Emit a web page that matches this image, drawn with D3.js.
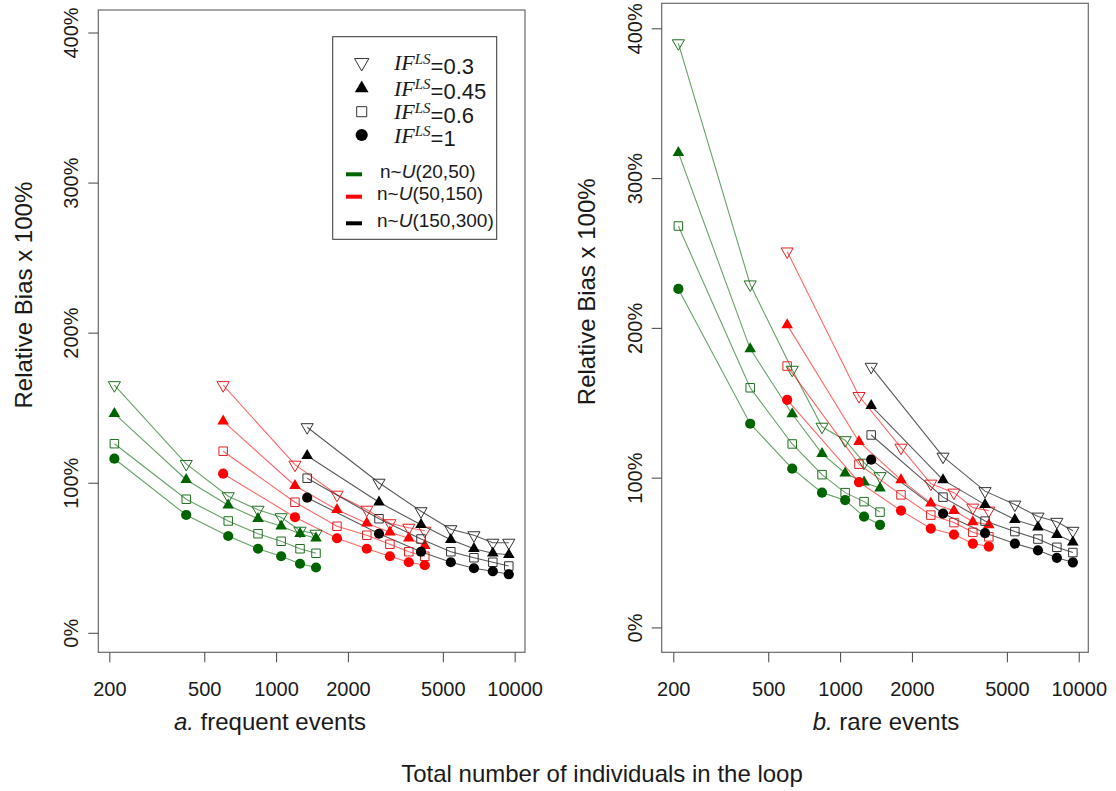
<!DOCTYPE html>
<html>
<head>
<meta charset="utf-8">
<script src="https://cdn.jsdelivr.net/npm/d3@7"></script>
<style>
  body { margin: 0; background: #fff; }
  text { font-family: "Liberation Sans", Arial, sans-serif; fill: #1a1a1a; }
</style>
</head>
<body>
<script>
// loop sizes (total individuals) for each n range
let nGreen = [210, 420, 630, 840, 1050, 1260, 1470],
    nRed = [600, 1200, 1800, 2400, 3000, 3600, 4200],
    nBlack = [1350, 2700, 4050, 5400, 6750, 8100, 9450];

let ifLevels = ["0.3", "0.45", "0.6", "1"],
    nRanges = ["20,50", "50,150", "150,300"],
    xTicks = [200, 500, 1000, 2000, 5000, 10000],
    yTicks = [0, 100, 200, 300, 400];

// relative bias in %, one row per IF level (0.3, 0.45, 0.6, 1)
let freqGreen = [
    [165, 112.5, 91, 82, 77, 68, 66],
    [146, 102, 85, 76, 71, 66, 63],
    [126, 89, 74.5, 66, 61, 56, 53],
    [116, 78.5, 64.5, 56, 51, 46, 43.5]];
let freqRed = [
    [165, 112, 92, 82, 73, 70, 68],
    [141, 98, 82, 73, 67, 63, 58],
    [121, 87, 71, 65, 59, 54, 51],
    [106, 77, 63, 56, 51, 47, 45]];
let freqBlack = [
    [137, 100, 81, 69, 65, 60, 60],
    [118, 87, 72, 62, 56, 53, 52],
    [103, 76, 62.5, 54, 50, 47, 44.5],
    [90, 66, 54, 47, 43, 41, 39]];

let rareGreen = [
    [390, 229, 172, 134, 125, 110, 101],
    [317, 186, 142.5, 116, 103, 97, 93],
    [268, 160, 122.5, 102, 90, 84, 77],
    [226, 136, 106, 90, 85, 74, 68.5]];
let rareRed = [
    [251, 154.5, 120, 96, 90, 80, 78],
    [202, 124, 98.5, 83, 78, 70.5, 68.5],
    [174.5, 109, 88.5, 75, 70, 63.5, 60.5],
    [152, 97, 78, 66, 62, 56, 54]];
let rareBlack = [
    [174, 114, 91, 82, 74, 70.5, 64.5],
    [148, 98.5, 82, 72, 67, 62, 57],
    [128.5, 87, 71, 64, 59, 53.5, 50],
    [112, 76, 63, 56, 51.5, 46.5, 43.5]];

let colors = ["#006400", "#ff0000", "#000000"],
    openColors = ["#1f6f1f", "#e52020", "#333333"];

let svgContainer = d3.select("body").append("svg")
    .attr("width", 1116)
    .attr("height", 791);

let symbols = [
    { type: d3.symbolTriangle, size: 64, rotate: 180, open: true },
    { type: d3.symbolTriangle, size: 58, rotate: 0, open: false },
    { type: d3.symbolSquare, size: 72, rotate: 0, open: true },
    { type: d3.symbolCircle, size: 82, rotate: 0, open: false }
];

function drawMarker(g, x, y, k, ci, scaleUp) {
    let s = symbols[k];
    let path = g.append("path")
        .attr("d", d3.symbol().type(s.type).size(s.size * (scaleUp || 1))())
        .attr("transform", "translate(" + x + "," + y + ") rotate(" + s.rotate + ")");
    if (s.open) {
        path.attr("fill", "none").attr("stroke", openColors[ci]).attr("stroke-width", 1);
    } else {
        path.attr("fill", colors[ci]);
    }
}

function drawPanel(box, xDomain, yDomain, groups, title, titleX) {
    let x = d3.scaleLog().domain(xDomain).range([box.left, box.right]);
    let y = d3.scaleLinear().domain(yDomain).range([box.bottom, box.top]);
    let g = svgContainer.append("g");

    let line = d3.line().x(d => x(d[0])).y(d => y(d[1]));
    groups.forEach((grp, ci) => {
        grp.values.forEach(row => {
            g.append("path")
                .datum(grp.n.map((n, i) => [n, row[i]]))
                .attr("d", line)
                .attr("fill", "none")
                .attr("stroke", colors[ci])
                .attr("stroke-opacity", ci == 2 ? 0.65 : 0.6)
                .attr("stroke-width", 1.1);
        });
    });
    groups.forEach((grp, ci) => {
        grp.values.forEach((row, k) => {
            row.forEach((v, i) => drawMarker(g, x(grp.n[i]), y(v), k, ci));
        });
    });

    g.append("rect")
        .attr("x", box.left).attr("y", box.top)
        .attr("width", box.right - box.left).attr("height", box.bottom - box.top)
        .attr("fill", "none").attr("stroke", "#6a6a6a").attr("stroke-width", 1.2);

    let xAxis = g.append("g")
        .attr("transform", "translate(0," + box.bottom + ")")
        .call(d3.axisBottom(x).tickValues(xTicks).tickFormat(d3.format("d")).tickSize(10).tickPadding(20));
    xAxis.select(".domain").remove();
    xAxis.selectAll("line").attr("stroke", "#444");
    xAxis.selectAll("text").style("font-size", "20px").attr("fill", "#1a1a1a");

    let yAxis = g.append("g")
        .attr("transform", "translate(" + box.left + ",0)")
        .call(d3.axisLeft(y).tickValues(yTicks).tickFormat(d => d + "%").tickSize(10));
    yAxis.select(".domain").remove();
    yAxis.selectAll("line").attr("stroke", "#444");
    yAxis.selectAll("text")
        .attr("x", null).attr("dy", null)
        .attr("transform", "translate(-20,0) rotate(-90)")
        .style("text-anchor", "middle")
        .style("font-size", "20px").attr("fill", "#1a1a1a");

    svgContainer.append("text")
        .attr("transform", "translate(" + (box.left - 75) + "," + ((box.top + box.bottom) / 2 - 36) + ") rotate(-90)")
        .attr("text-anchor", "middle")
        .attr("dy", "0.35em")
        .style("font-size", "24px")
        .text("Relative Bias x 100%");

    let t = svgContainer.append("text")
        .attr("x", titleX).attr("y", 730)
        .attr("text-anchor", "middle")
        .style("font-size", "24px");
    t.append("tspan").style("font-style", "italic").text(title[0]);
    t.append("tspan").text(title[1]);
}

drawPanel({ left: 98.3, right: 525, top: 10, bottom: 652.3 }, [179.8, 11050], [-13, 415],
    [{ n: nGreen, values: freqGreen }, { n: nRed, values: freqRed }, { n: nBlack, values: freqBlack }],
    ["a.", " frequent events"], 270);

drawPanel({ left: 661.7, right: 1088.3, top: 3.3, bottom: 652.3 }, [178.8, 10970], [-16.6, 416.7],
    [{ n: nGreen, values: rareGreen }, { n: nRed, values: rareRed }, { n: nBlack, values: rareBlack }],
    ["b.", " rare events"], 886);

svgContainer.append("text")
    .attr("x", 602).attr("y", 782)
    .attr("text-anchor", "middle")
    .style("font-size", "24px")
    .text("Total number of individuals in the loop");

// legend
let legend = svgContainer.append("g");
legend.append("rect")
    .attr("x", 332.7).attr("y", 36.7).attr("width", 164).attr("height", 202.6)
    .attr("fill", "#fff").attr("stroke", "#333").attr("stroke-width", 1);

let ifRowY = [62.7, 88.3, 111.7, 135];
ifLevels.forEach((lv, k) => {
    drawMarker(legend, 361.7, ifRowY[k], k, 2, 1.4);
    let t = legend.append("text").attr("x", 394).attr("y", ifRowY[k]).attr("dy", "0.35em").style("font-size", "22px");
    t.append("tspan").style("font-family", "Liberation Serif").style("font-style", "italic").text("IF");
    t.append("tspan").style("font-family", "Liberation Serif").style("font-style", "italic")
        .style("font-size", "15px").attr("dy", "-0.45em").text("LS");
    t.append("tspan").attr("dy", "0.45em").text("=" + lv);
});

let nRowY = [174.3, 196.7, 223.3];
nRanges.forEach((r, ci) => {
    legend.append("line")
        .attr("x1", 346).attr("x2", 362).attr("y1", nRowY[ci]).attr("y2", nRowY[ci])
        .attr("stroke", colors[ci]).attr("stroke-width", 4);
    let t = legend.append("text").attr("x", ci == 0 ? 380 : 377).attr("y", nRowY[ci] - 3)
        .attr("dy", "0.35em").style("font-size", "19px");
    t.append("tspan").text("n~");
    t.append("tspan").style("font-style", "italic").text("U");
    t.append("tspan").text("(" + r + ")");
});
</script>
</body>
</html>
